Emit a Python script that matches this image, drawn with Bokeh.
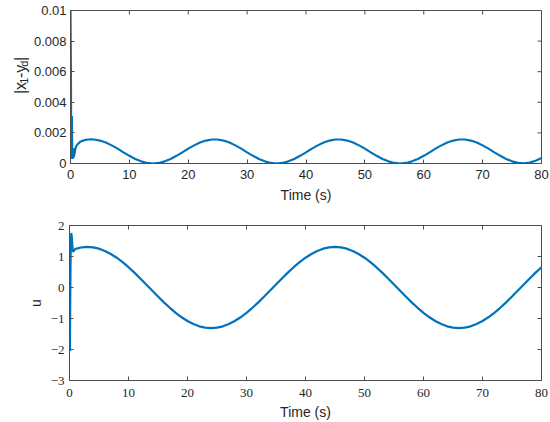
import math
from bokeh.plotting import figure
from bokeh.models import FixedTicker, Range1d
from bokeh.layouts import column, row
from bokeh.core.properties import value
from bokeh.embed import file_html
from bokeh.resources import INLINE

# ---------------- data ----------------
# top panel: |x1 - yd|, values in units of 1e-3
t_err = [0, 0.07, 0.12, 0.17, 0.23, 0.29, 0.34, 0.4, 0.47, 0.56, 0.7, 0.85,
         1.0, 1.3, 1.6, 2.0, 2.5, 3.0, 3.5,
         4, 5, 6, 7, 8, 9, 10, 11, 12, 13, 14, 15, 16, 17, 18, 19, 20,
         21, 22, 23, 24, 25, 26, 27, 28, 29, 30, 31, 32, 33, 34, 35, 36, 37, 38, 39, 40,
         41, 42, 43, 44, 45, 46, 47, 48, 49, 50, 51, 52, 53, 54, 55, 56, 57, 58, 59, 60,
         61, 62, 63, 64, 65, 66, 67, 68, 69, 70, 71, 72, 73, 74, 75, 76, 77, 78, 79, 80]
err_milli = [10.0, 6.0, 0.6, 0.3, 3.1, 0.8, 0.3, 0.5, 1.0, 0.4, 0.7, 1.0,
             1.15, 1.3, 1.4, 1.48, 1.54, 1.57, 1.58,
             1.57, 1.50, 1.37, 1.185, 0.97, 0.73, 0.50, 0.30, 0.14, 0.035, 0.0,
             0.035, 0.14, 0.30, 0.50, 0.73, 0.97, 1.185, 1.37, 1.50, 1.57,
             1.57, 1.50, 1.37, 1.185, 0.97, 0.73, 0.50, 0.30, 0.14, 0.035, 0.0,
             0.035, 0.14, 0.30, 0.50, 0.73, 0.97, 1.185, 1.37, 1.50, 1.57,
             1.57, 1.50, 1.37, 1.185, 0.97, 0.73, 0.50, 0.30, 0.14, 0.035, 0.0,
             0.035, 0.14, 0.30, 0.50, 0.73, 0.97, 1.185, 1.37, 1.50, 1.57,
             1.57, 1.50, 1.37, 1.185, 0.97, 0.73, 0.50, 0.30, 0.14, 0.04, 0.005,
             0.06, 0.18, 0.36]

# bottom panel: control input u
t_u = [0, 0.07, 0.12, 0.2, 0.3, 0.4, 0.5, 0.6, 0.8, 1.0, 1.5, 2.0, 2.5,
       3, 4, 5, 6, 7, 8, 9, 10, 11, 12, 13, 14, 15, 16, 17, 18, 19, 20,
       21, 22, 23, 24, 25, 26, 27, 28, 29, 30, 31, 32, 33, 34, 35, 36, 37, 38, 39, 40,
       41, 42, 43, 44, 45, 46, 47, 48, 49, 50, 51, 52, 53, 54, 55, 56, 57, 58, 59, 60,
       61, 62, 63, 64, 65, 66, 67, 68, 69, 70, 71, 72, 73, 74, 75, 76, 77, 78, 79, 80]
u_vals = [-1.4, -2.05, -0.5, 1.2, 1.76, 1.6, 1.3, 1.15, 1.2, 1.24, 1.27, 1.29, 1.30,
          1.31, 1.295, 1.252, 1.180, 1.082, 0.960, 0.817, 0.655, 0.479, 0.291, 0.098,
          -0.098, -0.291, -0.479, -0.655, -0.817, -0.960, -1.082, -1.180, -1.252, -1.295, -1.31,
          -1.295, -1.252, -1.180, -1.082, -0.960, -0.817, -0.655, -0.479, -0.291, -0.098,
          0.098, 0.291, 0.479, 0.655, 0.817, 0.960, 1.082, 1.180, 1.252, 1.295, 1.31,
          1.295, 1.252, 1.180, 1.082, 0.960, 0.817, 0.655, 0.479, 0.291, 0.098,
          -0.098, -0.291, -0.479, -0.655, -0.817, -0.960, -1.082, -1.180, -1.252, -1.295, -1.31,
          -1.295, -1.252, -1.180, -1.082, -0.960, -0.817, -0.655, -0.479, -0.291, -0.098,
          0.098, 0.291, 0.479, 0.655]

x_ticks = [0, 10, 20, 30, 40, 50, 60, 70, 80]
err_ticks = [0, 0.002, 0.004, 0.006, 0.008, 0.01]
err_tick_labels = ["0", "0.002", "0.004", "0.006", "0.008", "0.01"]
u_ticks = [-3, -2, -1, 0, 1, 2]
u_tick_labels = ["\u22123", "\u22122", "\u22121", "0", "1", "2"]
x_label = "Time (s)"
err_label_parts = ["|x", "1", "-y", "d", "|"]   # main, sub, main, sub, main

err = [v * 1e-3 for v in err_milli]

# ---------------- styling ----------------
LINE = "#0072BD"
AX = "#4d4d4d"
TXT = "#262626"
SANS = "Liberation Sans"
SERIF = "Liberation Serif"


def style_axis(ax, font, size):
    ax.major_tick_in = 4
    ax.major_tick_out = 0
    ax.minor_tick_line_color = None
    ax.major_tick_line_color = AX
    ax.axis_line_color = AX
    ax.major_label_text_font = font
    ax.major_label_text_font_size = size
    ax.major_label_text_color = TXT
    ax.axis_label_text_font = SANS
    ax.axis_label_text_font_size = "14px"
    ax.axis_label_text_font_style = "normal"
    ax.axis_label_text_color = TXT


def add_box_ticks(p, xt, yt):
    # inward ticks on the top and right edges of the box (outer half is clipped)
    top = p.y_range.end
    right = p.x_range.end
    p.scatter(x=xt, y=[top] * len(xt), marker="dash", size=8, angle=math.pi / 2,
              line_color=AX, line_width=1)
    p.scatter(x=[right] * len(yt), y=yt, marker="dash", size=8,
              line_color=AX, line_width=1)


def make_fig(w, h, left, right, top, bottom, yr):
    p = figure(width=w, height=h, output_backend="svg", toolbar_location=None,
               x_range=Range1d(0, 80), y_range=yr,
               min_border_left=left, min_border_right=right,
               min_border_top=top, min_border_bottom=bottom)
    p.grid.visible = False
    p.outline_line_color = AX
    p.background_fill_color = "white"
    p.border_fill_color = "white"
    return p


# ---------------- top panel ----------------
p1 = make_fig(520, 205, 39, 9, 10, 41, Range1d(0, 0.01))
p1.line(t_err, err, line_color=LINE, line_width=2.2)
p1.xaxis.ticker = FixedTicker(ticks=x_ticks)
p1.yaxis.ticker = FixedTicker(ticks=err_ticks)
p1.yaxis.major_label_overrides = dict(zip(err_ticks, err_tick_labels))
style_axis(p1.xaxis[0], SANS, "13px")
style_axis(p1.yaxis[0], SANS, "13px")
p1.xaxis.axis_label = x_label
p1.xaxis.major_label_standoff = 6
p1.xaxis.axis_label_standoff = 5
p1.yaxis.major_label_standoff = 4
add_box_ticks(p1, x_ticks, err_ticks)

# y label |x_1-y_d| of the top panel, drawn in a narrow side figure (pixel units)
lab = figure(width=30, height=205, output_backend="svg", toolbar_location=None,
             x_range=Range1d(0, 30), y_range=Range1d(0, 205),
             x_axis_type=None, y_axis_type=None,
             min_border_left=0, min_border_right=0, min_border_top=0, min_border_bottom=0)
lab.grid.visible = False
lab.outline_line_color = None
lab.border_fill_color = "white"
em = {"|": 0.26, "x": 0.5, "1": 0.556, "-": 0.333, "y": 0.5, "d": 0.556}
main_sz, sub_sz = 16, 11
pos = 93.0
for i, txt in enumerate(err_label_parts):
    is_sub = i % 2 == 1
    sz = sub_sz if is_sub else main_sz
    if is_sub:
        pos += 1.5
    lab.text(x=[23.5 if is_sub else 19.5], y=[pos], text=[txt], angle=math.pi / 2,
             text_align="left", text_baseline="alphabetic",
             text_font=value(SANS), text_font_size=value(f"{sz}px"), text_color=TXT)
    pos += sum(em[c] for c in txt) * sz + (1.5 if is_sub else 0.3)

# ---------------- bottom panel ----------------
p2 = make_fig(550, 217, 69, 9, 20, 42, Range1d(-3, 2))
p2.line(t_u, u_vals, line_color=LINE, line_width=2.2)
p2.xaxis.ticker = FixedTicker(ticks=x_ticks)
p2.yaxis.ticker = FixedTicker(ticks=u_ticks)
p2.yaxis.major_label_overrides = dict(zip(u_ticks, u_tick_labels))
style_axis(p2.xaxis[0], SERIF, "13px")
style_axis(p2.yaxis[0], SERIF, "13px")
p2.xaxis.axis_label = x_label
p2.yaxis.axis_label = "u"
p2.xaxis.major_label_standoff = 8
p2.xaxis.axis_label_standoff = 4
p2.yaxis.major_label_standoff = 5
p2.yaxis.axis_label_standoff = 4
add_box_ticks(p2, x_ticks, u_ticks)

layout = column(row(lab, p1, spacing=0), p2, spacing=0)
open("out.html", "w").write(file_html(layout, INLINE))
